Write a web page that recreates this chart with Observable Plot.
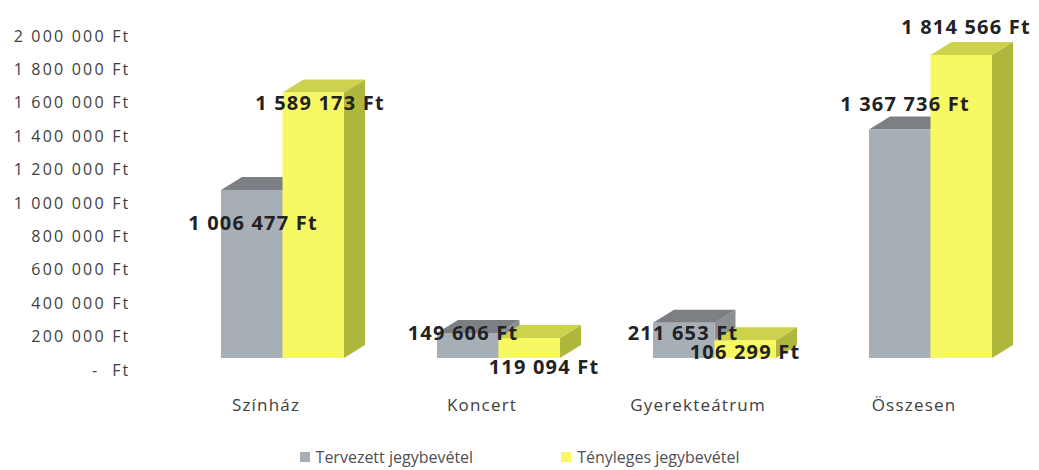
<!DOCTYPE html>
<html>
<head>
<meta charset="utf-8">
<script src="https://cdn.jsdelivr.net/npm/d3@7"></script>
<script src="https://cdn.jsdelivr.net/npm/@observablehq/plot@0.6"></script>
<style>
  html, body { margin: 0; padding: 0; background: #fff; }
  #chart { width: 1039px; }
  #chart g[aria-label="y-axis tick label"] text { letter-spacing: 2.2px; }
  #chart g[aria-label="x-axis tick label"] text { letter-spacing: 1.2px; }
  #chart g[aria-label="text"] text { letter-spacing: 1.2px; }
  .legend { display: flex; justify-content: center; align-items: center; font-family: "Open Sans", sans-serif; font-size: 16px; letter-spacing: 0px; color: #505050; height: 30px; margin-top: 2px; }
  .legend .item { display: flex; align-items: center; }
  .legend .sw { width: 10px; height: 10px; margin-right: 6px; }
  .legend .item + .item { margin-left: 88px; }
</style>
</head>
<body>
<div id="chart"></div>
<script>
// ---- data ----
const categories = ["Színház", "Koncert", "Gyerekteátrum", "Összesen"];
const series = ["Tervezett jegybevétel", "Tényleges jegybevétel"];
const tervezett = [1006477, 149606, 211653, 1367736];
const tenyleges = [1589173, 119094, 106299, 1814566];
const yTicks = [0, 200000, 400000, 600000, 800000, 1000000, 1200000, 1400000, 1600000, 1800000, 2000000];

// ---- styles / layout ----
const colors = {
  front: ["#a6aeb6", "#f8f862"],
  top:   ["#7c8085", "#cdd24c"],
  side:  ["#8a8f94", "#afb83c"]
};
const depth = {dx: 21, dy: -13};
const floorShift = -12;
// label offsets (px) relative to category center / value position
const labelOffsets = [
  [[-30, 21], [37, -2]],
  [[-36, -12], [45, 17]],
  [[-32, -2], [30, 0]],
  [[-26, -37], [35, -40]]
];

const rows = [];
categories.forEach((c, i) => {
  rows.push({category: c, series: series[0], s: 0, value: tervezett[i], ci: i});
  rows.push({category: c, series: series[1], s: 1, value: tenyleges[i], ci: i});
});

const fmtNum = v => d3.format(",")(v).replace(/,/g, "\u00a0");
const fmtFt = v => v === 0 ? "-\u00a0\u00a0Ft" : fmtNum(v) + "\u00a0Ft";

const W = 1039, H = 440;

function bars3d(index, scales, values, dimensions) {
  const x = scales.x, y = scales.y;
  const bw = typeof x.bandwidth === "function" ? x.bandwidth() : x.bandwidth;
  const half = bw / 2;
  const g = d3.create("svg:g");
  for (const r of rows) {
    const x0 = x(r.category) + r.s * half;
    const x1 = x0 + half;
    const yb = y(0) + floorShift;
    const yt = y(r.value) + floorShift;
    const {dx, dy} = depth;
    g.append("polygon")
      .attr("points", [[x1, yb], [x1 + dx, yb + dy], [x1 + dx, yt + dy], [x1, yt]].join(" "))
      .attr("fill", colors.side[r.s]);
    g.append("polygon")
      .attr("points", [[x0, yt], [x1, yt], [x1 + dx, yt + dy], [x0 + dx, yt + dy]].join(" "))
      .attr("fill", colors.top[r.s]);
    g.append("rect")
      .attr("x", x0).attr("y", yt)
      .attr("width", half).attr("height", yb - yt)
      .attr("fill", colors.front[r.s]);
  }
  return g.node();
}

const labelMarks = rows.map(r => {
  const [ox, oy] = labelOffsets[r.ci][r.s];
  return Plot.text([r], {
    x: "category", y: "value", text: d => fmtFt(d.value),
    dx: ox, dy: oy,
    fontSize: 20, fontWeight: 700, fill: "#222",
    fontFamily: "Open Sans", textAnchor: "middle"
  });
});

const plot = Plot.plot({
  width: W,
  height: H,
  marginLeft: 131,
  marginRight: 0,
  marginTop: 36,
  marginBottom: 70,
  style: {fontFamily: "Open Sans", fontSize: "16px", color: "#404040", background: "#fff"},
  x: {type: "band", domain: categories, range: [172, 1042], paddingInner: 0.43, paddingOuter: 0.22, axis: null},
  y: {domain: [0, 2000000], axis: null},
  marks: [
    bars3d,
    ...labelMarks,
    Plot.axisY({ticks: yTicks, tickFormat: fmtFt, tickSize: 0, tickPadding: 1, fontSize: 16, fill: "#404040", label: null}),
    Plot.axisX({tickSize: 0, tickPadding: 28, dx: -17, fontSize: 17, fill: "#404040", label: null})
  ]
});
document.getElementById("chart").appendChild(plot);

const legend = d3.select("#chart").append("div").attr("class", "legend");
series.forEach((s, i) => {
  const it = legend.append("div").attr("class", "item");
  it.append("div").attr("class", "sw").style("background", colors.front[i]);
  it.append("span").text(s);
});
</script>
</body>
</html>
